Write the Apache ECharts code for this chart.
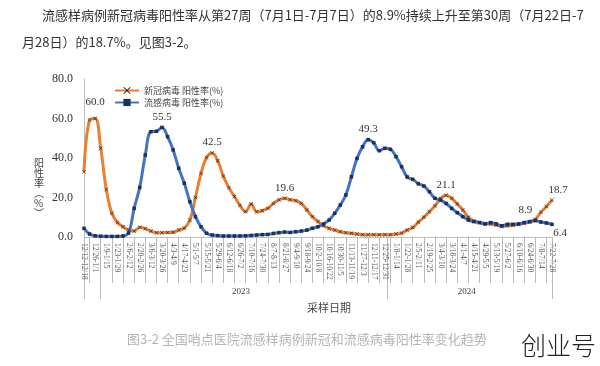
<!DOCTYPE html>
<html><head><meta charset="utf-8">
<script src="https://cdn.jsdelivr.net/npm/echarts/dist/echarts.min.js"></script>
<style>html,body{margin:0;padding:0;background:#fff}#c{width:600px;height:366px}</style>
</head><body><div id="c"></div>
<script>
// ---- data ----
const weeks = [
'12/12-12/18','12/19-12/25','12/26-1/1',
'1/2-1/8','1/9-1/15','1/16-1/22','1/23-1/29','1/30-2/5','2/6-2/12','2/13-2/19','2/20-2/26','2/27-3/5','3/6-3/12','3/13-3/19','3/20-3/26','3/27-4/2','4/3-4/9','4/10-4/16','4/17-4/23','4/24-4/30','5/1-5/7','5/8-5/14','5/15-5/21','5/22-5/28','5/29-6/4','6/5-6/11','6/12-6/18','6/19-6/25','6/26-7/2','7/3-7/9','7/10-7/16','7/17-7/23','7/24-7/30','7/31-8/6','8/7-8/13','8/14-8/20','8/21-8/27','8/28-9/3','9/4-9/10','9/11-9/17','9/18-9/24','9/25-10/1','10/2-10/8','10/9-10/15','10/16-10/22','10/23-10/29','10/30-11/5','11/6-11/12','11/13-11/19','11/20-11/26','11/27-12/3','12/4-12/10','12/11-12/17','12/18-12/24','12/25-12/31',
'1/1-1/7','1/8-1/14','1/15-1/21','1/22-1/28','1/29-2/4','2/5-2/11','2/12-2/18','2/19-2/25','2/26-3/3','3/4-3/10','3/11-3/17','3/18-3/24','3/25-3/31','4/1-4/7','4/8-4/14','4/15-4/21','4/22-4/28','4/29-5/5','5/6-5/12','5/13-5/19','5/20-5/26','5/27-6/2','6/3-6/9','6/10-6/16','6/17-6/23','6/24-6/30','7/1-7/7','7/8-7/14','7/15-7/21','7/22-7/28'];
const years = ['2022','2023','2024'];
const yearStart = [0, 3, 55];
const covid = [33.1,59.2,60.0,44.9,24.1,12.0,7.3,5.2,3.5,3.0,5.0,4.2,3.0,2.2,2.2,2.3,2.4,3.5,4.5,8.5,
  20.0,32.2,40.3,42.5,38.6,30.8,25.0,20.5,16.0,12.8,16.7,12.8,13.3,14.5,17.0,18.8,19.6,18.9,18.4,17.0,
  13.7,10.3,7.8,5.7,4.4,3.5,2.7,2.2,1.9,1.5,1.2,1.2,1.2,1.2,1.2,1.2,1.5,2.0,3.5,4.8,
  7.5,10.0,12.8,15.8,19.5,21.1,19.6,16.7,13.7,10.0,8.0,7.3,6.8,6.6,6.1,5.3,5.7,6.0,6.4,6.9,
  7.6,8.9,12.5,15.4,18.7];
const flu = [4.4,1.5,0.6,0.4,0.3,0.3,0.3,0.5,2.0,14.5,25.1,41.5,53.3,53.5,55.5,50.8,44.1,34.8,27.2,17.9,
  10.3,5.2,1.9,1.0,0.7,0.5,0.5,0.5,0.5,0.6,0.8,1.0,1.2,1.3,1.8,2.2,2.5,2.3,2.7,3.0,
  3.5,4.4,5.2,6.6,8.6,12.0,16.2,21.3,30.5,39.8,45.7,49.3,47.7,43.7,44.9,44.4,40.7,35.6,30.4,29.2,
  27.0,25.8,22.9,19.6,18.7,17.0,14.5,12.3,10.3,8.6,7.8,7.3,6.6,7.3,6.6,5.7,6.4,6.4,6.6,7.3,
  7.8,8.3,7.6,7.1,6.4];
const seriesNames = ['新冠病毒 阳性率(%)', '流感病毒 阳性率(%)'];
const yMin = 0, yMax = 80, yStep = 20;
const covidLabelAt = {2:'top-far', 23:'top', 36:'top', 65:'top', 81:'top-left', 84:'top-right'};
const fluLabelAt = {14:'top', 51:'top', 84:'bottom-right'};

// ---- build ----
const serif = '"Liberation Serif", "Times New Roman", serif';
const cjk = '"Noto Sans CJK SC", "Noto Sans", sans-serif';
const labelStyles = {
  'top': {position:'top', distance:3},
  'top-far': {position:'top', distance:9},
  'top-left': {position:'top', distance:2, offset:[-10,0]},
  'top-right': {position:'top', distance:2, offset:[6,0]},
  'bottom-right': {position:'bottom', distance:1, offset:[8,0]}
};
function build(vals, labels) {
  return vals.map((v, i) => labels[i] ? {
    value: v,
    label: Object.assign({show:true, formatter: p => p.value.toFixed(1), fontFamily: serif, fontSize: 11, color:'#333'}, labelStyles[labels[i]])
  } : v);
}
const yearCats = weeks.map(() => '');
yearStart.forEach((s, k) => {
  const e = k + 1 < yearStart.length ? yearStart[k + 1] : weeks.length;
  if (e - s > 10) yearCats[Math.round((s + e) / 2) - 1] = years[k];
});
const xPath = 'path://M0,1L1,0L5,4L9,0L10,1L6,5L10,9L9,10L5,6L1,10L0,9L4,5Z';

const chart = echarts.init(document.getElementById('c'), null, {renderer:'canvas'});
chart.setOption({
  animation: false,
  backgroundColor: '#fff',
  grid: {left: 84, right: 48, top: 79, bottom: 129, containLabel: false},
  legend: {
    data: seriesNames, orient: 'vertical', left: 109, top: 81,
    itemWidth: 24, itemHeight: 9, itemGap: 3,
    textStyle: {fontFamily: cjk, fontSize: 9, color: '#444'}
  },
  xAxis: [{
    type: 'category', data: weeks, boundaryGap: false,
    axisLine: {lineStyle: {color: '#bfbfbf', width: 1}},
    axisTick: {show: true, interval: (i) => i % 2 === 1, length: 46, lineStyle: {color: '#b8b8b8'}},
    axisLabel: {interval: (i) => i % 2 === 0, rotate: -90, fontFamily: serif, fontSize: 7.5, color: '#555', margin: 6}
  }, {
    type: 'category', data: yearCats, boundaryGap: true, position: 'bottom',
    axisLine: {show: false},
    axisTick: {show: true, interval: (i) => yearStart.indexOf(i) >= 0, length: 62, lineStyle: {color: '#b8b8b8'}},
    axisLabel: {interval: 0, fontFamily: serif, fontSize: 9, color: '#444', margin: 50},
    name: '采样日期', nameLocation: 'middle', nameGap: 65,
    nameTextStyle: {fontFamily: cjk, fontSize: 11, color: '#444', padding: [0,0,0,22]}
  }],
  yAxis: {
    type: 'value', min: yMin, max: yMax, interval: yStep,
    axisLine: {show: true, lineStyle: {color: '#bfbfbf'}},
    axisTick: {show: false},
    splitLine: {show: false},
    axisLabel: {formatter: v => v.toFixed(1), fontFamily: serif, fontSize: 12, color: '#333', margin: 11}
  },
  series: [{
    name: seriesNames[0], type: 'line', smooth: 0.4, data: build(covid, covidLabelAt),
    symbol: xPath, symbolSize: 4, showAllSymbol: true,
    lineStyle: {color: '#ED7D31', width: 3},
    itemStyle: {color: '#3b2a1e'}
  }, {
    name: seriesNames[1], type: 'line', smooth: 0.4, data: build(flu, fluLabelAt),
    symbol: 'rect', symbolSize: 3.5, showAllSymbol: true,
    lineStyle: {color: '#4472C4', width: 3},
    itemStyle: {color: '#1f2f55'}
  }],
  graphic: [
    {type: 'text', left: 42, top: 9, style: {text: '流感样病例新冠病毒阳性率从第27周（7月1日-7月7日）的8.9%持续上升至第30周（7月22日-7', font: '13px "Noto Sans CJK SC"', fill: '#333'}},
    {type: 'text', left: 22, top: 36, style: {text: '月28日）的18.7%。见图3-2。', font: '13px "Noto Sans CJK SC"', fill: '#333'}},
    {type: 'text', left: 34, top: 158, style: {text: '阳\n性\n率\n︵\n%\n︶', font: '10px "Noto Sans CJK SC"', fill: '#444', lineHeight: 10, align: 'center'}},
    {type: 'text', left: 127, top: 333, style: {text: '图3-2 全国哨点医院流感样病例新冠和流感病毒阳性率变化趋势', font: '13px "Noto Sans CJK SC"', fill: '#b5b5b5'}},
    {type: 'text', left: 521, top: 333, style: {text: '创业号', font: '300 25px "Noto Sans CJK SC"', fill: '#222'}}
  ]
});
</script>
</body></html>
